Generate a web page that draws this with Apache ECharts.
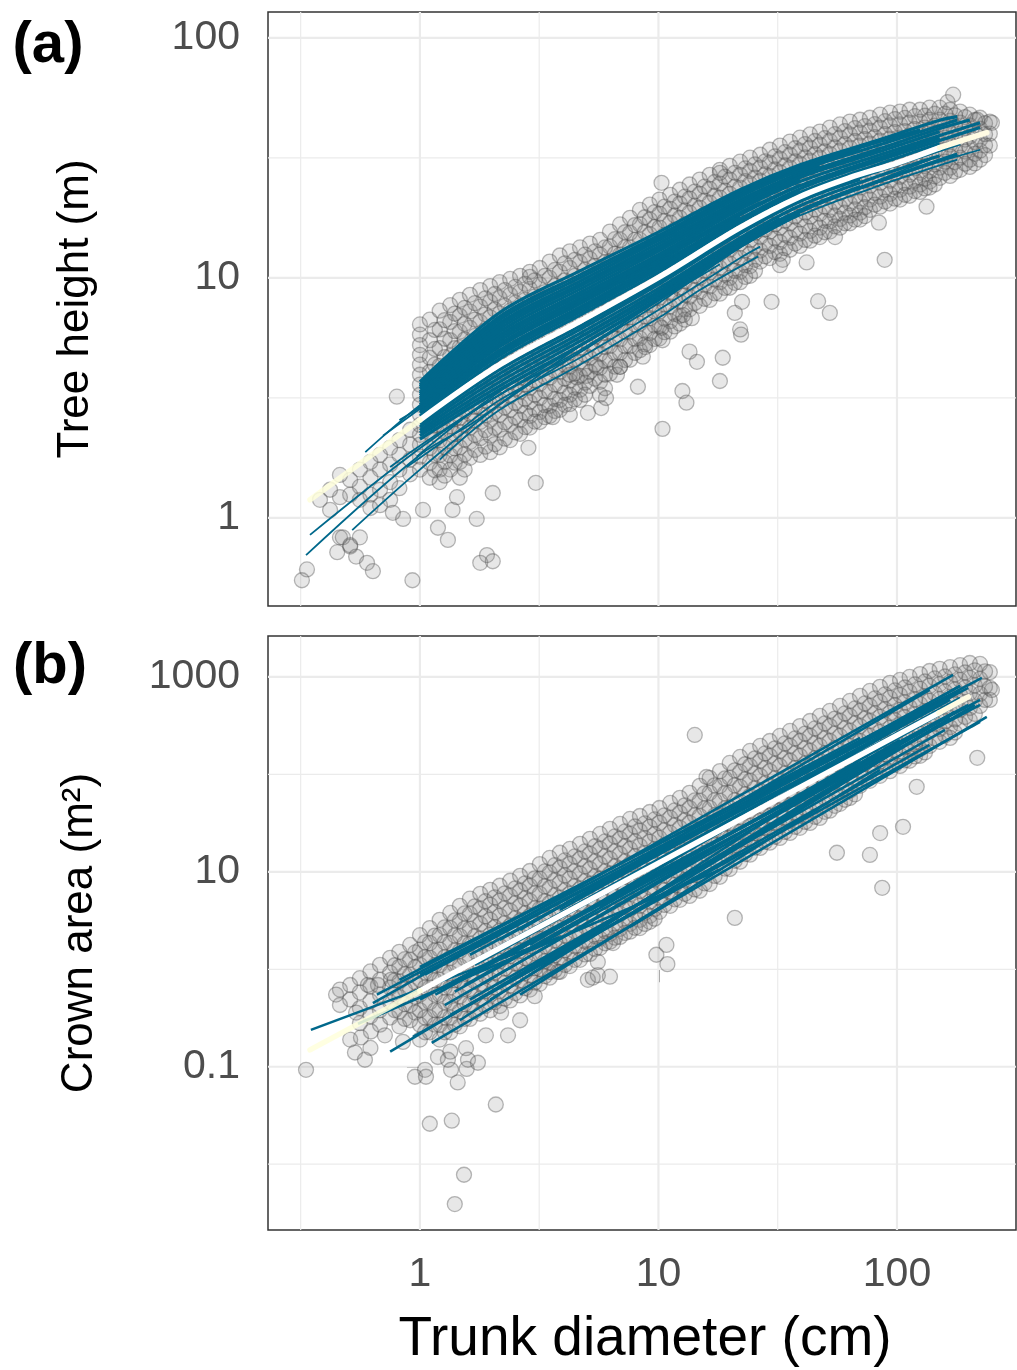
<!DOCTYPE html>
<html>
<head>
<meta charset="utf-8">
<script src="https://cdn.jsdelivr.net/npm/echarts@6/dist/echarts.min.js"></script>
<style>
  html, body { margin: 0; padding: 0; background: #fff; }
  #chart { width: 1017px; height: 1370px; }
</style>
</head>
<body>
<div id="chart"></div>
<script>
/* ---- data (diameter cm, height m, crown area m2) ---- */

// (a) tree height: point columns [diameter, [heights...]]
var heightCols = [
  [1, [6.4, 5.8, 5.25, 4.78, 4.35, 3.95, 3.59, 3.26, 2.96, 2.69, 2.44, 2.22, 2.02, 1.8, 1.59]],
  [0.91, [2.33, 2.02, 1.75, 1.52]],
  [0.82, [2.11, 1.83, 1.59, 1.33]],
  [0.75, [1.96, 1.67, 1.41, 1.19]],
  [0.68, [1.83, 1.59, 1.31, 1.13]],
  [0.62, [1.71, 1.47, 1.25, 1.10]],
  [0.56, [1.59, 1.35, 1.19, 0.83]],
  [0.51, [1.44, 1.25, 0.76]],
  [0.462, [1.51, 1.22, 0.83]],
  [0.42, [1.31, 1.08]],
  [0.381, [1.19]],
  [1.10, [6.7, 5.5, 4.65, 4.06, 3.49, 3.04, 2.61, 2.27, 1.96, 1.70, 1.47]],
  [1.21, [7.3, 6.1, 5.1, 4.3, 3.76, 3.26, 2.82, 2.45, 2.11, 1.83, 1.59, 1.41]],
  [1.34, [7.7, 6.55, 5.5, 4.73, 4.14, 3.62, 3.16, 2.76, 2.41, 2.09, 1.82, 1.59]],
  [1.47, [8.1, 6.95, 5.97, 5.14, 4.47, 3.91, 3.42, 2.98, 2.61, 2.28, 1.97, 1.71, 1.47]],
  [1.62, [8.5, 7.25, 6.2, 5.3, 4.65, 4.06, 3.55, 3.10, 2.71, 2.38, 2.07, 1.78]],
  [1.79, [8.9, 7.6, 6.55, 5.6, 4.9, 4.3, 3.76, 3.29, 2.87, 2.51, 2.15, 1.83]],
  [1.97, [9.25, 7.95, 6.85, 5.85, 5.1, 4.47, 3.84, 3.42, 2.98, 2.56, 2.2, 1.88]],
  [2.16, [9.6, 8.25, 7.1, 6.1, 5.3, 4.65, 4.06, 3.55, 3.1, 2.69, 2.33, 1.97]],
  [2.39, [9.9, 8.5, 7.3, 6.3, 5.5, 4.82, 4.22, 3.69, 3.22, 2.82, 2.45, 2.11]],
  [2.63, [10.2, 8.75, 7.5, 6.55, 5.7, 5.0, 4.39, 3.84, 3.35, 2.93, 2.56, 2.24]],
  [2.89, [10.6, 9.0, 7.8, 6.85, 5.97, 5.2, 4.56, 3.99, 3.49, 3.04, 2.66, 2.38]],
  [3.18, [11.0, 9.4, 8.1, 7.1, 6.2, 5.4, 4.73, 4.14, 3.62, 3.16, 2.76, 2.51]],
  [3.5, [11.7, 10.0, 8.6, 7.5, 6.55, 5.7, 5.0, 4.39, 3.84, 3.35, 2.93, 2.66]],
  [3.86, [12.4, 10.6, 9.0, 7.95, 6.95, 6.1, 5.3, 4.65, 4.06, 3.55, 3.10, 2.82]],
  [4.25, [12.9, 11.0, 9.5, 8.35, 7.3, 6.4, 5.55, 4.87, 4.26, 3.73, 3.26, 2.98]],
  [4.69, [13.4, 11.6, 10.0, 8.75, 7.65, 6.7, 5.85, 5.1, 4.47, 3.91, 3.42, 3.10]],
  [5.16, [13.9, 12.0, 10.4, 9.0, 7.95, 6.95, 6.1, 5.3, 4.65, 4.06, 3.55]],
  [5.69, [14.4, 12.5, 10.8, 9.4, 8.25, 7.25, 6.3, 5.5, 4.82, 4.22, 3.69, 3.26]],
  [6.26, [15.6, 13.5, 11.7, 10.2, 8.9, 7.8, 6.85, 5.97, 5.2, 4.56, 3.99]],
  [6.9, [16.7, 14.4, 12.5, 10.9, 9.5, 8.35, 7.3, 6.4, 5.55, 4.87, 4.26]],
  [7.6, [17.8, 15.4, 13.4, 11.7, 10.2, 8.9, 7.8, 6.85, 5.97, 5.2, 4.56]],
  [8.36, [19.2, 16.7, 14.4, 12.6, 11.0, 9.6, 8.4, 7.4, 6.45, 5.6, 5.0]],
  [9.2, [20.2, 17.5, 15.2, 13.2, 11.6, 10.1, 8.8, 7.7, 6.8, 5.9, 5.25]],
  [10.1, [21.2, 18.5, 16.2, 14.1, 12.4, 10.8, 9.4, 8.25, 7.25, 6.3, 5.6]],
  [11.2, [22.2, 19.4, 17.0, 14.8, 13.0, 11.4, 9.9, 8.65, 7.6, 6.6, 5.97]],
  [12.3, [23.3, 20.4, 17.8, 15.6, 13.6, 11.9, 10.4, 9.0, 7.95, 6.95, 6.45]],
  [13.5, [24.5, 21.4, 18.7, 16.4, 14.3, 12.5, 10.9, 9.5, 8.35, 7.4]],
  [14.9, [25.7, 22.4, 19.6, 17.2, 15.0, 13.1, 11.5, 10.0, 8.75, 7.65]],
  [16.4, [26.9, 23.5, 20.6, 18.0, 15.7, 13.7, 12.0, 10.5, 9.2, 8.1]],
  [18.1, [28.2, 24.7, 21.6, 18.9, 16.5, 14.4, 12.6, 11.0, 9.6, 8.6]],
  [19.9, [29.3, 25.7, 22.4, 19.6, 17.2, 15.0, 13.1, 11.5, 10.0, 9.1]],
  [22, [30.5, 26.9, 23.8, 20.8, 18.2, 15.9, 13.9, 12.1, 10.6, 9.6]],
  [24.2, [31.7, 27.9, 24.7, 21.6, 18.9, 16.5, 14.4, 12.6, 11.2, 10.2]],
  [26.7, [32.6, 28.8, 25.4, 22.2, 19.4, 17.0, 14.8, 13.0, 11.7]],
  [29.3, [34.2, 30.2, 26.6, 23.3, 20.4, 17.8, 15.6, 13.6, 12.1]],
  [32.3, [35.6, 31.4, 27.6, 24.2, 21.2, 18.5, 16.2, 14.1, 12.6]],
  [35.6, [37.0, 32.6, 28.8, 25.2, 22.0, 19.2, 16.9, 14.7, 13.1]],
  [39.2, [38.4, 33.9, 29.9, 26.1, 22.9, 20.0, 17.5, 15.3, 13.6]],
  [43.2, [39.6, 34.9, 30.8, 26.9, 23.5, 20.6, 18.0, 15.7, 14.3]],
  [47.5, [40.7, 35.9, 31.7, 27.6, 24.2, 21.2, 18.5, 16.2, 14.8]],
  [52.3, [42.3, 37.3, 32.9, 28.8, 25.2, 22.0, 19.2, 17.2, 15.6]],
  [57.7, [43.6, 38.4, 33.9, 29.6, 25.9, 22.6, 19.8, 17.6, 16.2]],
  [63.5, [44.8, 39.6, 34.9, 30.5, 26.6, 23.3, 20.4, 18.2, 16.9]],
  [70, [45.6, 40.3, 35.6, 31.1, 27.2, 23.8, 20.8, 18.7, 17.5]],
  [77, [46.5, 41.1, 36.3, 31.7, 27.6, 24.2, 21.2, 19.2]],
  [84.9, [47.9, 42.3, 37.3, 32.6, 28.5, 24.9, 21.8, 19.8]],
  [93.5, [48.8, 43.2, 38.0, 33.2, 29.0, 25.4, 22.4, 20.4]],
  [103, [49.3, 43.6, 38.4, 33.9, 29.9, 26.4, 23.3, 21.2]],
  [113, [50.2, 44.4, 39.2, 34.5, 30.5, 26.9, 24.0, 22.0]],
  [125, [50.2, 44.8, 39.9, 35.2, 31.1, 27.4, 24.5, 22.8]],
  [137, [51.2, 45.6, 40.7, 35.9, 31.7, 27.9, 25.2, 23.8]],
  [151, [51.2, 45.6, 40.7, 36.3, 32.3, 28.8, 26.1]],
  [167, [50.2, 45.2, 40.3, 35.9, 32.0, 28.8, 26.6]],
  [184, [49.3, 44.4, 39.9, 35.6, 31.7, 28.2]],
  [202, [47.9, 43.2, 38.8, 34.9, 31.1, 29.0]],
  [223, [46.5, 41.9, 37.7, 33.9, 31.1]],
  [245, [44.8, 39.9, 35.6]]
];
// (a) the in-between points of the dense cloud
var heightCols2 = [
  [1.155, [6.07, 5.06, 4.35, 3.76, 3.26, 2.82, 2.43, 2.11, 1.83, 1.58]],
  [1.27, [6.67, 5.58, 4.68, 4.02, 3.5, 3.03, 2.63, 2.27, 1.97, 1.71, 1.5]],
  [1.40, [7.1, 6.0, 5.1, 4.42, 3.87, 3.38, 2.95, 2.58, 2.24, 1.95, 1.7]],
  [1.54, [7.5, 6.44, 5.54, 4.79, 4.18, 3.66, 3.19, 2.79, 2.44, 2.12, 1.84, 1.59]],
  [1.70, [7.85, 6.7, 5.73, 4.96, 4.34, 3.8, 3.32, 2.9, 2.54, 2.22, 1.92]],
  [1.88, [8.22, 7.05, 6.06, 5.24, 4.59, 4.02, 3.52, 3.07, 2.68, 2.32, 1.98]],
  [2.06, [8.57, 7.38, 6.33, 5.46, 4.77, 4.14, 3.62, 3.19, 2.76, 2.37, 2.03]],
  [2.27, [8.9, 7.65, 6.58, 5.69, 4.96, 4.35, 3.8, 3.32, 2.89, 2.5, 2.14]],
  [2.51, [9.17, 7.88, 6.78, 5.89, 5.15, 4.51, 3.95, 3.45, 3.01, 2.63, 2.27]],
  [2.76, [9.45, 8.1, 7.0, 6.11, 5.34, 4.68, 4.1, 3.59, 3.13, 2.74, 2.39]],
  [3.03, [9.77, 8.38, 7.31, 6.4, 5.57, 4.87, 4.27, 3.73, 3.26, 2.84, 2.52]],
  [3.34, [10.2, 8.73, 7.58, 6.63, 5.79, 5.05, 4.43, 3.87, 3.38, 2.95, 2.63]],
  [3.68, [10.8, 9.27, 8.03, 7.0, 6.11, 5.34, 4.68, 4.1, 3.59, 3.13, 2.79]],
  [4.05, [11.5, 9.77, 8.46, 7.43, 6.51, 5.69, 4.96, 4.34, 3.8, 3.32, 2.96]],
  [4.46, [11.9, 10.2, 8.9, 7.81, 6.84, 5.96, 5.2, 4.55, 3.99, 3.49, 3.12]],
  [4.92, [12.5, 10.8, 9.35, 8.18, 7.16, 6.26, 5.46, 4.77, 4.18, 3.66, 3.26]],
  [5.42, [12.9, 11.2, 9.67, 8.46, 7.43, 6.51, 5.69, 4.96, 4.34, 3.8]],
  [5.97, [13.4, 11.6, 10.1, 8.8, 7.73, 6.76, 5.89, 5.15, 4.51, 3.95, 3.47]],
  [6.57, [14.5, 12.6, 10.9, 9.53, 8.33, 7.31, 6.4, 5.57, 4.87, 4.27]],
  [7.24, [15.5, 13.4, 11.7, 10.2, 8.9, 7.81, 6.84, 5.96, 5.2, 4.55]],
  [7.97, [16.6, 14.4, 12.5, 10.9, 9.53, 8.33, 7.31, 6.4, 5.57, 4.87]],
  [8.77, [17.9, 15.5, 13.5, 11.8, 10.3, 8.98, 7.88, 6.91, 6.01, 5.29]],
  [9.64, [18.8, 16.3, 14.2, 12.4, 10.8, 9.43, 8.23, 7.24, 6.33, 5.57]],
  [10.6, [19.8, 17.3, 15.1, 13.2, 11.6, 10.1, 8.81, 7.73, 6.76, 5.94]],
  [11.7, [20.8, 18.2, 15.9, 13.9, 12.2, 10.6, 9.25, 8.11, 7.08, 6.28]],
  [12.9, [21.8, 19.1, 16.7, 14.6, 12.7, 11.1, 9.67, 8.46, 7.43, 6.7]],
  [14.2, [22.9, 20.0, 17.5, 15.3, 13.4, 11.7, 10.2, 8.9, 7.86]],
  [15.6, [24.0, 21.0, 18.4, 16.1, 14.0, 12.3, 10.7, 9.35, 8.18]],
  [17.2, [25.1, 22.0, 19.3, 16.8, 14.7, 12.8, 11.2, 9.83, 8.63]],
  [19.0, [26.4, 23.1, 20.2, 17.7, 15.4, 13.5, 11.8, 10.3, 9.09]],
  [20.9, [27.4, 24.0, 21.0, 18.4, 16.1, 14.0, 12.3, 10.7, 9.54]],
  [23.1, [28.6, 25.3, 22.2, 19.5, 17.0, 14.9, 13.0, 11.3, 10.1]],
  [25.4, [29.7, 26.2, 23.1, 20.2, 17.7, 15.4, 13.5, 11.9, 10.7]],
  [28.0, [30.6, 27.0, 23.7, 20.8, 18.2, 15.9, 13.9, 12.3]],
  [30.8, [32.1, 28.3, 24.9, 21.8, 19.1, 16.7, 14.6, 12.8]],
  [33.9, [33.4, 29.4, 25.8, 22.6, 19.8, 17.3, 15.1, 13.3]],
  [37.4, [34.7, 30.6, 26.9, 23.5, 20.6, 18.0, 15.8, 13.9]],
  [41.2, [36.1, 31.8, 27.9, 24.4, 21.4, 18.7, 16.4, 14.4]],
  [45.3, [37.2, 32.8, 28.8, 25.1, 22.0, 19.3, 16.8, 15.0]],
  [49.8, [38.2, 33.7, 29.6, 25.8, 22.6, 19.8, 17.3, 15.5]],
  [54.9, [39.7, 35.0, 30.8, 26.9, 23.5, 20.6, 18.2, 16.4]],
  [60.5, [40.9, 36.1, 31.7, 27.7, 24.2, 21.2, 18.7, 16.9]],
  [66.7, [42.1, 37.2, 32.6, 28.5, 24.9, 21.8, 19.3, 17.5]],
  [73.4, [42.9, 37.9, 33.3, 29.1, 25.4, 22.3, 19.7, 18.1]],
  [80.8, [43.7, 38.6, 33.9, 29.6, 25.8, 22.6, 20.2]],
  [89.1, [45.0, 39.7, 34.9, 30.5, 26.6, 23.3, 20.8]],
  [98.1, [45.9, 40.5, 35.5, 31.0, 27.1, 23.9, 21.4]],
  [108, [46.4, 40.9, 36.1, 31.8, 28.1, 24.8, 22.2]],
  [119, [47.2, 41.7, 36.8, 32.4, 28.6, 25.4, 23.0]],
  [131, [47.4, 42.3, 37.5, 33.1, 29.2, 25.9, 23.6]],
  [144, [48.3, 43.1, 38.2, 33.7, 29.7, 26.5, 24.5]],
  [159, [48.3, 43.1, 38.4, 34.2, 30.5, 27.4]],
  [175, [47.6, 42.7, 38.0, 33.9, 30.4, 27.7]],
  [193, [46.8, 42.1, 37.7, 33.6, 29.9]],
  [212, [45.5, 40.9, 36.8, 32.9, 30.0]],
  [234, [44.1, 39.7, 35.7, 32.5]]
];
// (a) scattered points off the main cloud [diameter, height]
var heightExtra = [
  [0.336, 0.61], [0.32, 0.55], [0.45, 0.72], [0.475, 0.83], [0.54, 0.69], [0.6, 0.65],
  [0.635, 0.6], [0.51, 0.77], [0.77, 1.05], [0.85, 0.99], [0.93, 0.55], [1.03, 1.08],
  [1.19, 0.91], [1.31, 0.81], [1.37, 1.08], [1.43, 1.22], [1.73, 0.99], [1.79, 0.65],
  [1.91, 0.70], [2.02, 0.66], [2.02, 1.27], [0.8, 3.2], [2.89, 10.1], [2.85, 1.96],
  [3.06, 1.40], [3.6, 2.63], [4.25, 2.69], [5.06, 2.74], [5.75, 2.87], [6.03, 3.16],
  [8.2, 3.52], [10.4, 2.35], [12.6, 3.38], [13.1, 3.02], [13.5, 4.93], [14.5, 4.47],
  [18.1, 3.72], [18.6, 4.65], [20.9, 7.15], [22, 6.1], [22.2, 5.8], [22.4, 7.95],
  [29.8, 7.95], [46.7, 8.0], [52.3, 7.15], [88.8, 11.9], [6.7, 3.95], [6.9, 4.26],
  [5.5, 4.26], [4.25, 3.95], [4.55, 3.85], [5.0, 3.91], [8.6, 4.7], [8.8, 5.15],
  [10.4, 5.5], [10.3, 6.2], [12.7, 7.0], [13.8, 6.8], [41.8, 11.6], [33.2, 11.9],
  [32.3, 11.3], [55, 14.8], [133, 19.8], [84, 17.0], [172, 58], [163, 54],
  [250, 44.3], [217, 45.6], [10.3, 24.9], [18.1, 27.4]
];
// (a) species curves [[diameter, height], ...]; the first 22 form the dense core
var heightLines = [
  [[1, 3.69], [2.16, 7.17], [4.69, 10.7], [10.1, 15.6], [22, 23.3], [39.2, 29.6], [84.9, 37.7], [151, 45.4], [179, 47]],
  [[1, 3.58], [2.16, 6.9], [4.69, 10.3], [10.1, 15.1], [22, 22.7], [39.2, 29.1], [84.9, 37], [125, 41.4]],
  [[1, 3.52], [2.16, 6.7], [4.69, 10.0], [10.1, 14.7], [22, 22.2], [39.2, 28.5], [70, 34]],
  [[1, 3.45], [2.16, 6.5], [4.69, 9.7], [10.1, 14.4], [22, 21.8], [39.2, 28], [84.9, 35.9], [179, 45.5]],
  [[1, 3.35], [2.16, 6.33], [4.69, 9.42], [10.1, 14.0], [22, 21.2], [39.2, 27.4], [47.5, 29.2]],
  [[1, 3.29], [2.16, 6.15], [4.69, 9.24], [10.1, 13.6], [22, 20.8], [39.2, 26.9], [84.9, 34.6], [151, 41.9], [202, 45.5]],
  [[1, 3.23], [2.16, 5.97], [4.69, 8.98], [10.1, 13.3], [22, 20.4], [39.2, 26.4], [84.9, 34.2]],
  [[1, 3.16], [2.16, 5.8], [4.69, 8.7], [10.1, 13.0], [22, 20], [39.2, 26.2], [84.9, 33.6], [151, 40.7]],
  [[1, 3.1], [2.16, 5.64], [4.69, 8.47], [10.1, 12.6], [22, 19.6], [39.2, 25.7]],
  [[1, 3.04], [2.16, 5.48], [4.69, 8.24], [10.1, 12.4], [22, 19.3], [39.2, 25.2], [84.9, 32.6], [151, 39.2], [223, 44.3]],
  [[1, 2.96], [2.16, 5.32], [4.69, 8.0], [10.1, 12.0], [22, 18.7], [26.7, 20.6]],
  [[1, 2.9], [2.16, 5.17], [4.69, 7.8], [10.1, 11.8], [22, 18.3], [39.2, 24.2], [84.9, 31.7], [151, 38.4]],
  [[1, 2.84], [2.16, 5.0], [4.69, 7.55], [10.1, 11.4], [22, 18.0]],
  [[1, 2.79], [2.16, 4.88], [4.69, 7.4], [10.1, 11.1], [22, 17.6], [39.2, 23.5], [84.9, 30.9], [151, 37.4], [223, 42.3]],
  [[1, 2.74], [2.16, 4.75], [4.69, 7.2], [10.1, 10.9], [22, 17.3], [39.2, 23.1]],
  [[1, 2.66], [2.16, 4.6], [4.69, 7.0], [10.1, 10.6], [22, 17.0], [39.2, 22.7], [84.9, 29.9], [151, 36.3]],
  [[1, 2.46], [2.16, 4.15], [4.69, 6.3], [10.1, 9.7], [22, 15.6], [39.2, 21.2], [84.9, 28], [184, 36.2]],
  [[1, 2.39], [2.16, 3.99], [4.69, 6.1], [10.1, 9.45], [22, 15.3], [39.2, 20.8], [70, 25.7]],
  [[1, 2.32], [2.16, 3.84], [4.69, 5.88], [10.1, 9.1], [22, 14.7], [39.2, 20], [84.9, 26.7], [151, 32.3]],
  [[1, 2.26], [2.16, 3.69], [4.69, 5.66], [10.1, 8.75], [22, 14.3], [32.3, 17.6]],
  [[1, 2.2], [2.16, 3.55], [4.69, 5.45], [10.1, 8.5], [22, 13.9], [39.2, 19.1], [84.9, 25.4], [179, 32.8]],
  [[1, 2.13], [2.16, 3.42], [4.69, 5.24], [10.1, 8.2], [22, 13.5], [39.2, 18.5]],
  [[0.59, 1.88], [1, 2.95], [2.16, 5.2], [4.69, 7.9], [10.1, 12], [22, 18.5], [39.2, 24.2], [84.9, 31.5], [120, 35]],
  [[0.82, 2.56], [1, 2.9], [2.16, 5.3], [4.69, 8.1], [10.1, 12.2], [22, 18.8], [39.2, 24.5]],
  [[0.7, 2.2], [1, 2.85], [2.16, 5.0], [4.69, 7.6], [10.1, 11.6], [18, 15.8]],
  [[0.333, 0.70], [1, 1.83], [1.67, 2.49], [4.69, 5.2], [10.1, 8.3], [22, 13.6], [39.2, 18.7], [84.9, 25.2], [103, 26.8]],
  [[0.346, 0.85], [1, 1.95], [2.16, 3.26], [4.69, 5.0], [10.1, 8.1], [22, 13.6], [39.2, 19.1], [70, 24.2]],
  [[0.52, 0.89], [1, 1.59], [2.16, 2.96], [4.69, 4.9], [10.1, 7.9], [22, 13.4], [35.5, 17.5]],
  [[0.75, 1.63], [1, 2.0], [2.16, 3.26], [4.69, 4.9], [8.1, 7.1]],
  [[1.21, 1.75], [2.16, 2.82], [4.69, 4.35], [10.1, 6.85], [14.9, 8.9], [26.2, 12.3]],
  [[0.88, 1.63], [1.47, 2.33], [2.16, 3.1], [4.69, 4.65], [10.1, 7.4], [22, 12.1], [26.7, 13.5]],
  [[0.97, 1.8], [2.16, 3.36], [4.69, 5.2], [10.1, 8.3], [22, 13.9], [39.2, 19], [84.9, 25.7], [137, 31.1]],
  [[1.47, 2.56], [2.16, 3.26], [4.69, 5.2], [10.1, 8.1], [18.1, 11.4]],
  [[4.69, 5.7], [10.1, 8.9], [22, 14.4], [39.2, 19.2], [84.9, 25.2], [151, 30.5], [223, 34.2]],
  [[6.9, 6.8], [10.1, 8.5], [22, 13.7], [39.2, 18.2], [84.9, 24.3], [179, 31.1]]
];
// (a) overall fit: fitted range, and extrapolated ends
var heightMean = [[1, 2.56], [2.16, 4.35], [4.69, 6.6], [10.1, 10.1], [22, 16.2], [39.2, 21.8], [63, 26.1], [100, 30.1], [151, 34.9]];
var heightMeanLow = [[0.346, 1.19], [1, 2.56]];
var heightMeanHigh = [[151, 34.9], [238, 40.3]];

// (b) crown area: point columns [diameter, [areas...]]
var crownCols = [
  [0.462, [0.62, 0.43]],
  [0.51, [0.69, 0.49, 0.19]],
  [0.56, [0.81, 0.58, 0.40, 0.28]],
  [0.62, [0.95, 0.67, 0.47, 0.33, 0.156]],
  [0.68, [1.11, 0.78, 0.55, 0.38, 0.27]],
  [0.75, [1.31, 0.92, 0.65, 0.46, 0.32]],
  [0.82, [1.51, 1.06, 0.75, 0.52, 0.37, 0.26]],
  [0.91, [1.78, 1.25, 0.88, 0.62, 0.43, 0.30]],
  [1, [2.24, 1.59, 1.11, 0.78, 0.55, 0.38, 0.27, 0.19]],
  [1.10, [2.65, 1.86, 1.31, 0.92, 0.65, 0.46, 0.32, 0.226]],
  [1.21, [3.22, 2.24, 1.59, 1.11, 0.78, 0.55, 0.38, 0.27, 0.19]],
  [1.34, [3.79, 2.65, 1.86, 1.31, 0.92, 0.65, 0.46, 0.32, 0.226]],
  [1.47, [4.48, 3.13, 2.19, 1.54, 1.08, 0.76, 0.53, 0.37, 0.26]],
  [1.62, [5.3, 3.7, 2.6, 1.83, 1.28, 0.90, 0.63, 0.44, 0.31]],
  [1.79, [5.95, 4.18, 2.93, 2.06, 1.44, 1.01, 0.71, 0.50, 0.35]],
  [1.97, [6.54, 4.59, 3.22, 2.26, 1.59, 1.11, 0.78, 0.55, 0.38]],
  [2.16, [7.2, 5.04, 3.54, 2.48, 1.74, 1.22, 0.86, 0.60, 0.42]],
  [2.39, [8.1, 5.66, 3.98, 2.79, 1.96, 1.37, 0.97, 0.68, 0.48]],
  [2.63, [9.1, 6.4, 4.48, 3.15, 2.21, 1.55, 1.09, 0.77, 0.54]],
  [2.89, [10.2, 7.2, 5.04, 3.54, 2.48, 1.74, 1.22, 0.86, 0.62]],
  [3.18, [12.0, 8.5, 5.95, 4.18, 2.93, 2.06, 1.44, 1.01, 0.71]],
  [3.5, [13.9, 9.8, 6.85, 4.8, 3.38, 2.37, 1.66, 1.17, 0.82]],
  [3.86, [15.7, 11.0, 7.7, 5.4, 3.79, 2.65, 1.86, 1.31, 0.94]],
  [4.25, [17.2, 12.0, 8.5, 5.95, 4.18, 2.93, 2.06, 1.44, 1.08]],
  [4.69, [19.4, 13.6, 9.6, 6.7, 4.7, 3.3, 2.31, 1.62, 1.25]],
  [5.16, [21.8, 15.3, 10.7, 7.5, 5.3, 3.7, 2.6, 1.82, 1.44]],
  [5.69, [24.5, 17.2, 12.0, 8.5, 5.95, 4.18, 2.93, 2.06, 1.66]],
  [6.26, [27.6, 19.4, 13.6, 9.6, 6.7, 4.7, 3.3, 2.31, 1.92]],
  [6.9, [31.0, 21.8, 15.3, 10.7, 7.5, 5.3, 3.7, 2.6, 2.15]],
  [7.6, [34.9, 24.5, 17.2, 12.0, 8.5, 5.95, 4.18, 2.93, 2.43]],
  [8.36, [37.4, 26.4, 18.5, 13.0, 9.1, 6.4, 4.48, 3.22, 2.65]],
  [9.2, [41.1, 28.9, 20.3, 14.2, 10.0, 7.0, 4.92, 3.54, 3.07]],
  [10.1, [45.2, 31.8, 22.3, 15.7, 11.0, 7.7, 5.4, 3.89]],
  [11.2, [51.0, 35.8, 25.1, 17.6, 12.4, 8.7, 6.1, 4.48]],
  [12.3, [57.4, 40.3, 28.3, 19.9, 13.9, 9.8, 6.85, 5.16]],
  [13.5, [64.7, 45.2, 31.8, 22.3, 15.7, 11.0, 7.7, 5.66]],
  [14.9, [76.3, 53.5, 37.4, 26.4, 18.5, 13.0, 9.1, 6.4]],
  [16.4, [92, 64.7, 45.2, 31.8, 22.3, 15.7, 11.0, 7.5]],
  [18.1, [108, 76.3, 53.5, 37.4, 26.4, 18.5, 13.0, 8.9]],
  [19.9, [131, 92, 64.7, 45.2, 31.8, 22.3, 15.7, 10.7]],
  [22, [151, 106, 74.5, 52.3, 36.7, 25.8, 18.1, 12.7]],
  [24.2, [174, 122, 85.9, 60.3, 42.4, 29.7, 20.8, 15.0]],
  [26.7, [196, 138, 96.7, 67.9, 47.7, 33.4, 23.5, 17.6]],
  [29.3, [220, 155, 108, 76.3, 53.5, 37.4, 26.4, 19.9]],
  [32.3, [248, 174, 122, 85.9, 60.3, 42.4, 29.7, 22.3]],
  [35.6, [279, 196, 138, 96.7, 67.9, 47.7, 33.4, 25.1]],
  [39.2, [313, 220, 155, 108, 76.3, 53.5, 37.4, 28.3]],
  [43.2, [353, 248, 174, 122, 85.9, 60.3, 42.4, 31.8]],
  [47.5, [398, 279, 196, 138, 96.7, 67.9, 47.7, 35.8]],
  [52.3, [448, 313, 220, 155, 108, 76.3, 53.5, 42.4]],
  [57.7, [504, 353, 248, 174, 122, 85.9, 60.3, 49.9]],
  [63.5, [567, 398, 279, 196, 138, 96.7, 67.9, 57.4]],
  [70, [639, 448, 313, 220, 155, 108, 76.3]],
  [77, [719, 504, 353, 248, 174, 122, 85.9]],
  [84.9, [791, 554, 389, 272, 191, 135, 96.7]],
  [93.5, [869, 609, 427, 300, 210, 148, 108]],
  [103, [931, 652, 459, 323, 226, 159, 122]],
  [113, [1000, 702, 491, 345, 242, 170, 138]],
  [125, [1070, 753, 527, 370, 260, 182, 155]],
  [137, [1150, 809, 567, 398, 279, 196]],
  [151, [1210, 845, 594, 418, 293, 216]],
  [167, [1260, 885, 624, 438, 306, 237]],
  [184, [1320, 931, 652, 459, 330]],
  [202, [1390, 977, 685, 480, 362]],
  [223, [1360, 954, 669, 504]],
  [245, [1120, 772, 581]]
];
// (b) the in-between points of the dense cloud
var crownCols2 = [
  [0.785, [1.1, 0.77, 0.55, 0.38]],
  [0.865, [1.27, 0.89, 0.62, 0.44, 0.31]],
  [0.955, [1.49, 1.05, 0.74, 0.52, 0.36]],
  [1.05, [1.89, 1.33, 0.93, 0.65, 0.46, 0.32, 0.226]],
  [1.155, [2.22, 1.56, 1.1, 0.77, 0.55, 0.38, 0.27]],
  [1.27, [2.69, 1.89, 1.33, 0.93, 0.65, 0.46, 0.32, 0.226]],
  [1.40, [3.17, 2.22, 1.56, 1.1, 0.77, 0.55, 0.38, 0.27]],
  [1.54, [3.74, 2.62, 1.84, 1.29, 0.91, 0.63, 0.44, 0.31]],
  [1.70, [4.43, 3.1, 2.18, 1.53, 1.07, 0.75, 0.53, 0.37]],
  [1.88, [4.99, 3.5, 2.46, 1.72, 1.21, 0.85, 0.6, 0.42]],
  [2.06, [5.48, 3.84, 2.7, 1.9, 1.33, 0.93, 0.65, 0.46]],
  [2.27, [6.02, 4.22, 2.96, 2.08, 1.46, 1.02, 0.72, 0.5]],
  [2.51, [6.77, 4.75, 3.33, 2.34, 1.64, 1.15, 0.81, 0.57]],
  [2.76, [7.63, 5.35, 3.76, 2.64, 1.85, 1.3, 0.92, 0.64]],
  [3.03, [8.57, 6.02, 4.22, 2.96, 2.08, 1.46, 1.02, 0.73]],
  [3.34, [10.1, 7.11, 4.99, 3.5, 2.46, 1.72, 1.21, 0.85]],
  [3.68, [11.7, 8.19, 5.73, 4.03, 2.83, 1.98, 1.39, 0.98]],
  [4.05, [13.1, 9.2, 6.45, 4.52, 3.17, 2.22, 1.56, 1.11]],
  [4.46, [14.4, 10.1, 7.11, 4.99, 3.5, 2.46, 1.72, 1.25]],
  [4.92, [16.2, 11.4, 8.02, 5.61, 3.94, 2.76, 1.93, 1.42]],
  [5.42, [18.3, 12.8, 8.96, 6.3, 4.43, 3.1, 2.18, 1.62]],
  [5.97, [20.5, 14.4, 10.1, 7.11, 4.99, 3.5, 2.46, 1.85]],
  [6.57, [23.1, 16.2, 11.4, 8.02, 5.61, 3.94, 2.76, 2.11]],
  [7.24, [26.0, 18.3, 12.8, 8.96, 6.3, 4.43, 3.1, 2.36]],
  [7.97, [29.2, 20.5, 14.4, 10.1, 7.11, 4.99, 3.5, 2.67]],
  [8.77, [31.4, 22.1, 15.5, 10.9, 7.63, 5.35, 3.8, 2.92]],
  [9.64, [34.5, 24.2, 17.0, 11.9, 8.37, 5.87, 4.17, 3.3]],
  [10.6, [37.9, 26.6, 18.7, 13.1, 9.2, 6.45, 4.58]],
  [11.7, [42.7, 30.0, 21.0, 14.8, 10.4, 7.29, 5.23]],
  [12.9, [48.1, 33.8, 23.7, 16.6, 11.7, 8.19, 5.95]],
  [14.2, [54.1, 37.9, 26.6, 18.7, 13.1, 9.2, 6.6]],
  [15.6, [63.9, 44.7, 31.4, 22.1, 15.5, 10.9, 7.63]],
  [17.2, [77.2, 54.1, 37.9, 26.6, 18.7, 13.1, 9.08]],
  [19.0, [90.8, 63.9, 44.7, 31.4, 22.1, 15.5, 10.8]],
  [20.9, [110, 77.2, 54.1, 37.9, 26.6, 18.7, 13.0]],
  [23.1, [127, 88.9, 62.4, 43.8, 30.8, 21.6, 15.2]],
  [25.4, [146, 102, 72.0, 50.6, 35.5, 24.9, 17.7]],
  [28.0, [164, 116, 81.0, 56.9, 39.9, 28.0, 20.3]],
  [30.8, [185, 129, 90.8, 63.9, 44.7, 31.4, 22.9]],
  [33.9, [208, 146, 102, 72.0, 50.6, 35.5, 25.7]],
  [37.4, [234, 164, 116, 81.0, 56.9, 39.9, 29.0]],
  [41.2, [262, 185, 129, 90.8, 63.9, 44.7, 32.5]],
  [45.3, [296, 208, 146, 102, 72.0, 50.6, 36.7]],
  [49.8, [333, 234, 164, 116, 81.0, 56.9, 41.3]],
  [54.9, [374, 262, 185, 129, 90.8, 63.9, 47.6]],
  [60.5, [422, 296, 208, 146, 102, 72.0, 54.9]],
  [66.7, [475, 333, 234, 164, 116, 81.0, 62.4]],
  [73.4, [535, 374, 262, 185, 129, 90.8]],
  [80.8, [602, 422, 296, 208, 146, 102]],
  [89.1, [662, 464, 325, 228, 161, 114]],
  [98.1, [727, 510, 358, 251, 176, 126]],
  [108, [779, 547, 385, 270, 190, 139]],
  [119, [838, 587, 412, 289, 203, 153]],
  [131, [898, 630, 442, 310, 218, 168]],
  [144, [965, 677, 475, 333, 234]],
  [159, [1010, 708, 498, 350, 252]],
  [175, [1060, 743, 523, 366, 269]],
  [193, [1110, 779, 547, 389]],
  [212, [1170, 818, 573, 417]],
  [234, [1140, 799, 581]]
];
var crownExtra = [
  [0.333, 0.093], [0.445, 0.55], [0.534, 0.14], [0.588, 0.118], [0.566, 0.2], [0.605, 0.69],
  [0.667, 0.69], [0.756, 0.78], [0.54, 0.36], [0.623, 0.23], [0.713, 0.21], [0.849, 0.18],
  [0.953, 0.079], [1.05, 0.093], [1.06, 0.079], [1.19, 0.126], [1.31, 0.118], [1.34, 0.143],
  [1.35, 0.093], [1.44, 0.069], [1.56, 0.155], [1.59, 0.118], [1.57, 0.095], [1.75, 0.11],
  [2.08, 0.041], [1.10, 0.026], [1.36, 0.028], [1.53, 0.0078], [1.40, 0.0039], [1.89, 0.21],
  [2.34, 0.21], [2.63, 0.30], [2.19, 0.36], [3.03, 0.53], [3.5, 0.94], [3.79, 0.94],
  [5.06, 0.78], [5.57, 0.87], [6.26, 0.84], [5.57, 1.19], [10.9, 1.13], [6.45, 1.86],
  [14.2, 254], [15.9, 94], [56, 15.7], [77, 14.9], [86.7, 6.85], [121, 74.5],
  [217, 148], [250, 736], [106, 29], [85, 25], [10.8, 1.78], [9.8, 1.41],
  [20.9, 3.37], [5.3, 0.82], [3.09, 2.1]
];
// (b) species lines (straight on log-log): [start, end]
var crownLines = [
  [[0.349, 0.239], [3.86, 2.15]],
  [[0.55, 0.276], [18.1, 10.5]],
  [[0.635, 0.45], [172, 1050]],
  [[0.66, 0.55], [227, 977]],
  [[0.75, 0.143], [103, 187]],
  [[0.935, 0.203], [137, 201]],
  [[1.12, 0.176], [238, 389]],
  [[1, 1.06], [103, 362]],
  [[1.05, 0.88], [184, 736]],
  [[1.21, 0.62], [223, 581]],
  [[1.27, 0.43], [137, 300]],
  [[1.34, 0.34], [223, 345]],
  [[1.47, 0.30], [70, 141]],
  [[1.62, 1.41], [151, 516]],
  [[1.70, 1.11], [184, 609]],
  [[1.79, 0.69], [103, 226]],
  [[1.97, 0.49], [167, 380]],
  [[2.16, 2.01], [184, 809]],
  [[2.27, 1.31], [125, 408]],
  [[2.39, 0.78], [212, 516]],
  [[2.63, 0.55], [84.9, 111]],
  [[2.89, 1.78], [151, 554]],
  [[3.18, 1.11], [103, 201]],
  [[0.82, 0.78], [70, 237]],
  [[2.63, 2.54], [137, 736]],
  [[7.6, 2.73], [10.4, 4.38]],
  [[1, 0.88], [199, 771]],
  [[1, 0.49], [199, 516]],
  [[1.10, 0.69], [167, 581]],
  [[1.16, 0.55], [175, 438]],
  [[1.34, 0.88], [184, 702]],
  [[1.40, 0.59], [151, 345]],
  [[1.54, 0.69], [193, 581]],
  [[1.62, 0.49], [159, 286]],
  [[3.86, 4.07], [184, 809]],
  [[5.69, 4.38], [223, 516]]
];
var crownMean = [[1, 0.60], [150, 427]];
var crownMeanLow = [[0.346, 0.149], [1, 0.60]];
var crownMeanHigh = [[150, 427], [199, 624]];

// axis breaks (log10 units)
var xTicks = [0, 1, 2], xMinor = [-0.5, 0.5, 1.5];
var aTicks = [0, 1, 2], aMinor = [0.5, 1.5];
var bTicks = [-1, 1, 3], bMinor = [-2, 0, 2];

/* ---- build chart ---- */
var X_MIN = -0.637, X_MAX = 2.499;
var A_MIN = -0.367, A_MAX = 2.108;
var B_MIN = -2.675, B_MAX = 3.42;

function lg(p) { return [Math.log10(p[0]), Math.log10(p[1])]; }
function fromCols(cols) {
  var out = [];
  cols.forEach(function (c) {
    c[1].forEach(function (y) { out.push(lg([c[0], y])); });
  });
  return out;
}
function fmt(v) { return String(Math.round(Math.pow(10, v) * 1000) / 1000); }

var FONT = 'Liberation Sans, Arial, Helvetica, sans-serif';
var BLUE = '#00688B';
var series = [];

function gridLine(idx, vertical, v, lo, hi, w) {
  series.push({
    type: 'line', xAxisIndex: idx, yAxisIndex: idx, silent: true, z: 1,
    symbol: 'none', data: vertical ? [[v, lo], [v, hi]] : [[lo, v], [hi, v]],
    lineStyle: { color: '#ebebeb', width: w }
  });
}
[[0, A_MIN, A_MAX, aTicks, aMinor], [1, B_MIN, B_MAX, bTicks, bMinor]].forEach(function (g) {
  xMinor.forEach(function (v) { gridLine(g[0], true, v, g[1], g[2], 1.2); });
  xTicks.forEach(function (v) { gridLine(g[0], true, v, g[1], g[2], 2.2); });
  g[4].forEach(function (v) { gridLine(g[0], false, v, X_MIN, X_MAX, 1.2); });
  g[3].forEach(function (v) { gridLine(g[0], false, v, X_MIN, X_MAX, 2.2); });
});

var pointStyle = {
  color: 'rgba(120,120,120,0.22)',
  borderColor: 'rgba(80,80,80,0.5)',
  borderWidth: 1.3
};
series.push({
  type: 'scatter', xAxisIndex: 0, yAxisIndex: 0, z: 2, symbolSize: 15,
  data: fromCols(heightCols).concat(fromCols(heightCols2), heightExtra.map(lg)), itemStyle: pointStyle
});
series.push({
  type: 'scatter', xAxisIndex: 1, yAxisIndex: 1, z: 2, symbolSize: 15,
  data: fromCols(crownCols).concat(fromCols(crownCols2), crownExtra.map(lg)), itemStyle: pointStyle
});

heightLines.forEach(function (l, i) {
  series.push({
    type: 'line', xAxisIndex: 0, yAxisIndex: 0, z: 3, symbol: 'none', smooth: 0.35,
    silent: true, data: l.map(lg), lineStyle: { color: BLUE, width: i < 22 ? 3.2 : 1.8 }
  });
});
crownLines.forEach(function (l) {
  series.push({
    type: 'line', xAxisIndex: 1, yAxisIndex: 1, z: 3, symbol: 'none',
    silent: true, data: l.map(lg), lineStyle: { color: BLUE, width: 2.6 }
  });
});

function meanLine(idx, data, color, smooth) {
  series.push({
    type: 'line', xAxisIndex: idx, yAxisIndex: idx, z: 4, symbol: 'none', smooth: smooth,
    silent: true, data: data.map(lg), lineStyle: { color: color, width: 5.5, cap: 'round' }
  });
}
meanLine(0, heightMean, '#ffffff', 0.35);
meanLine(0, heightMeanLow, 'rgba(255,255,220,0.85)', false);
meanLine(0, heightMeanHigh, '#fffbe3', 0.35);
meanLine(1, crownMean, '#ffffff', false);
meanLine(1, crownMeanLow, 'rgba(255,255,220,0.85)', false);
meanLine(1, crownMeanHigh, '#fffbe3', false);

function yAxisDef(idx, min, max, ticks) {
  return {
    type: 'value', gridIndex: idx, min: min, max: max,
    splitLine: { show: false }, axisLine: { show: false },
    axisTick: { show: true, customValues: ticks, length: 13, lineStyle: { color: '#333', width: 1.6 } },
    axisLabel: { customValues: ticks, formatter: fmt, margin: 28, color: '#4d4d4d', fontSize: 41, fontFamily: FONT }
  };
}

var option = {
  animation: false,
  backgroundColor: '#ffffff',
  grid: [
    { left: 268, right: 1, top: 12, height: 594, show: true, borderColor: '#333', borderWidth: 1.5 },
    { left: 268, right: 1, top: 636, height: 594, show: true, borderColor: '#333', borderWidth: 1.5 }
  ],
  xAxis: [
    {
      type: 'value', gridIndex: 0, min: X_MIN, max: X_MAX,
      splitLine: { show: false }, axisLine: { show: false },
      axisTick: { show: false }, axisLabel: { show: false }
    },
    {
      type: 'value', gridIndex: 1, min: X_MIN, max: X_MAX,
      splitLine: { show: false }, axisLine: { show: false },
      axisTick: { show: true, customValues: xTicks, length: 13, lineStyle: { color: '#333', width: 1.6 } },
      axisLabel: { customValues: xTicks, formatter: fmt, margin: 24, color: '#4d4d4d', fontSize: 41, fontFamily: FONT }
    }
  ],
  yAxis: [
    yAxisDef(0, A_MIN, A_MAX, aTicks),
    yAxisDef(1, B_MIN, B_MAX, bTicks)
  ],
  graphic: [
    { type: 'text', x: 48, y: 46, style: { text: '(a)', font: 'bold 58px ' + FONT, fill: '#000', textAlign: 'center', textVerticalAlign: 'middle' } },
    { type: 'text', x: 50, y: 667, style: { text: '(b)', font: 'bold 58px ' + FONT, fill: '#000', textAlign: 'center', textVerticalAlign: 'middle' } },
    { type: 'text', x: 76, y: 309, rotation: Math.PI / 2, style: { text: 'Tree height (m)', font: '44px ' + FONT, fill: '#000', textAlign: 'center', textVerticalAlign: 'middle' } },
    { type: 'text', x: 80, y: 933, rotation: Math.PI / 2, style: { text: 'Crown area (m²)', font: '44px ' + FONT, fill: '#000', textAlign: 'center', textVerticalAlign: 'middle' } },
    { type: 'text', x: 645, y: 1340, style: { text: 'Trunk diameter (cm)', font: '55px ' + FONT, fill: '#000', textAlign: 'center', textVerticalAlign: 'middle' } }
  ],
  series: series
};

var myChart = echarts.init(document.getElementById('chart'));
myChart.setOption(option);
</script>
</body>
</html>
